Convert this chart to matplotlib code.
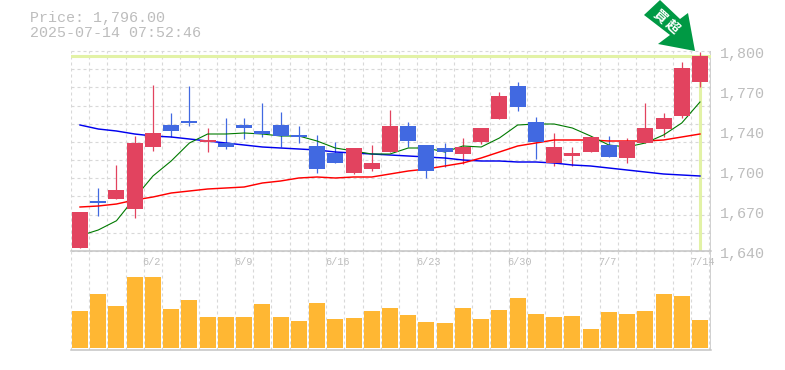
import matplotlib
matplotlib.use("Agg")
import matplotlib.pyplot as plt
import numpy as np
from matplotlib.patches import Polygon

FONT = "Liberation Mono"
dates = {4: "6/2", 9: "6/9", 14: "6/16", 19: "6/23", 24: "6/30", 29: "7/7", 34: "7/14"}
price_labels = ["1,800", "1,770", "1,740", "1,700", "1,670", "1,640"]
price_ticks = [1800, 1768, 1736, 1704, 1672, 1640]

opens = [1642.4,1680,1681.6,1673.6,1723.2,1740.8,1744,1727.2,1726.4,1740.8,1736,1740.8,1732.8,1724,1718.4,
         1702.4,1705.6,1719.2,1740,1724.8,1722.4,1717.6,1727.2,1745.6,1772,1743.2,1710.4,1716,1719.2,1724.8,
         1714.4,1726.4,1737.6,1748,1775.2]
closes = [1671.2,1678.4,1688.8,1726.4,1734.4,1736,1742.4,1728.8,1723.2,1738.4,1733.6,1732,1731.2,1705.6,1710.4,
          1722.4,1710.4,1740,1728,1704,1719.2,1723.2,1738.4,1764,1755.2,1727.2,1723.2,1718.4,1731.2,1715.2,
          1728,1738.4,1746.4,1786.4,1796]
highs = [1671.2,1690.4,1708.8,1732,1772.8,1750.4,1772,1738.4,1746.4,1746.4,1758.4,1751.2,1740,1732.8,1727.2,
         1722.4,1724.8,1752.8,1743.2,1724.8,1726.4,1730.4,1738.4,1767.2,1775.2,1747.2,1734.4,1723.2,1732,1732,
         1730.4,1758.4,1750.4,1791.2,1799.2]
lows = [1642.4,1668,1681.6,1666.4,1720,1731.2,1740,1719.2,1721.6,1729.6,1731.2,1723.2,1726.4,1702.4,1710.4,
        1701.6,1704,1719.2,1723.2,1698.4,1707.2,1709.6,1725.6,1745.6,1752,1713.6,1708,1708,1719.2,1715.2,
        1710.4,1726.4,1731.2,1746.4,1771.2]
ma_short = [1652.2,1656.8,1664.2,1682.4,1700,1712,1726.4,1733.6,1733.6,1734.4,1733.6,1732,1732,1728,1722.4,
            1720,1717.6,1717.6,1722.4,1722.4,1719.2,1724,1723.2,1730.4,1740.8,1741.6,1741.6,1738.4,1732,1724.8,
            1723.2,1726.4,1732.8,1742.4,1759.2]
ma_mid = [1675.2,1676,1677.6,1680.8,1683.2,1686.4,1688,1689.6,1690.4,1691.2,1694.4,1696,1698.4,1699.2,1698.4,
          1699.2,1699.2,1701.6,1704,1705.6,1708,1710.4,1714.4,1719.2,1724,1726.4,1728.8,1728.8,1728.8,1728,
          1728,1728,1728.8,1731.2,1733.6]
ma_long = [1740.8,1737.6,1736,1733.6,1732,1731.2,1729.6,1728,1726.4,1724.8,1723.2,1722.4,1721.6,1720.8,1719.2,
           1718.4,1717.6,1716.8,1716,1715.2,1714.4,1712.8,1712,1712,1711.2,1711.2,1710.4,1708.8,1708,1706.4,
           1704.8,1703.2,1701.6,1700.8,1700]
volumes = [37,54,42,71,71,39,48,31,31,31,44,31,27,45,29,30,37,40,33,26,25,40,29,38,50,34,31,32,19,36,34,37,54,52,28]
last_price = 1796
title_lines = ["Price: 1,796.00", "2025-07-14 07:52:46"]
badge_chars = ["\u8cb7", "\u8d85"]

W, H = 785, 370
fig = plt.figure(figsize=(W/100, H/100), dpi=100, facecolor="white")

def make_ax(l, t, r, b):
    return fig.add_axes([l/W, 1-b/H, (r-l)/W, (b-t)/H])

X0, X1 = 70.5, 710.5
ax = make_ax(X0, 51, X1, 251)
vax = make_ax(X0, 251, X1, 350)
n = len(opens)
xs = np.arange(n)
step = 18.235
xlim = (-(80-X0)/step, (X1-80)/step)
GRID = "#d8d8d8"
AXIS = "#c4c4c4"
HILITE = "#e2f2a6"
RED, BLUE = "#e2435f", "#4169e1"
DASH = (0, (2.7, 2.7))

for a in (ax, vax):
    a.set_xlim(*xlim)
    a.set_xticks([])
    a.set_yticks([])
    a.patch.set_alpha(0)
    for s in a.spines.values():
        s.set_visible(False)
    for i in range(n+1):
        a.axvline(i-0.5, color=GRID, lw=0.8, ls=DASH, zorder=0)
    a.axvline(xlim[1], color=AXIS, lw=1.1, zorder=1)

ax.set_ylim(1640, 1800)
for i in range(12):
    ax.axhline(1640+i*160/11, color=GRID, lw=0.8, ls=DASH, zorder=0, clip_on=False)
ax.axhline(last_price, color=HILITE, lw=2.2, zorder=1)
ax.axvline(n-1, ymax=(last_price-1640)/160, color=HILITE, lw=2.2, zorder=1)
ax.axhline(1640, color=AXIS, lw=1.1, zorder=2, clip_on=False)

colors = [RED if c >= o else BLUE for o, c in zip(opens, closes)]
ax.vlines(xs, lows, highs, colors=colors, lw=0.9, zorder=3)
ax.plot(xs, ma_long, color="#0000ee", lw=1.05, zorder=4)
ax.plot(xs, ma_mid, color="#ff0000", lw=1.05, zorder=4)
ax.plot(xs, ma_short, color="#007a00", lw=0.8, zorder=4)
ax.bar(xs, np.abs(np.array(closes)-np.array(opens)), bottom=np.minimum(opens, closes),
       width=16/step, color=colors, lw=0, zorder=5)

vax.set_ylim(-2, 97)
vax.bar(xs, volumes, width=16/step, color="#ffb733", lw=0, zorder=3)
vax.axhline(-2, color=AXIS, lw=1.1, zorder=2, clip_on=False)
for i, lab in dates.items():
    vax.text(i-0.56, 86, lab, family=FONT, fontsize=7.4, color="#bdbdbd", ha="left", va="center", zorder=6)

for v, lab in zip(price_ticks, price_labels):
    ax.annotate(lab, (1, v), xycoords=("axes fraction", "data"), xytext=(9.5/100*72, -2.6/100*72),
                textcoords="offset points", family=FONT, fontsize=10.8, color="#bdbdbd",
                ha="left", va="center", annotation_clip=False)

fig.text(29.5/W, 1-18/H, title_lines[0], family=FONT, fontsize=10.8, color="#bdbdbd", va="center")
fig.text(29.5/W, 1-33/H, title_lines[1], family=FONT, fontsize=10.8, color="#bdbdbd", va="center")

# Signal arrow badge, placed in figure pixels
arrow_px = [(660, 0), (644, 15), (670, 35), (658, 44), (695, 51), (688, 13), (680, 19)]
fig.add_artist(Polygon([(x/W, 1-y/H) for x, y in arrow_px], closed=True, transform=fig.transFigure,
                       facecolor="#009944", edgecolor="none", zorder=7))
for (px, py), ch in zip([(660, 17), (672, 27)], badge_chars):
    fig.text(px/W, 1-py/H, ch, family=["Noto Sans CJK JP", "DejaVu Sans"], fontsize=9.6, fontweight="bold",
             color="white", rotation=-42, rotation_mode="anchor", ha="center", va="center", zorder=8)

fig.savefig("out.png", dpi=100)
